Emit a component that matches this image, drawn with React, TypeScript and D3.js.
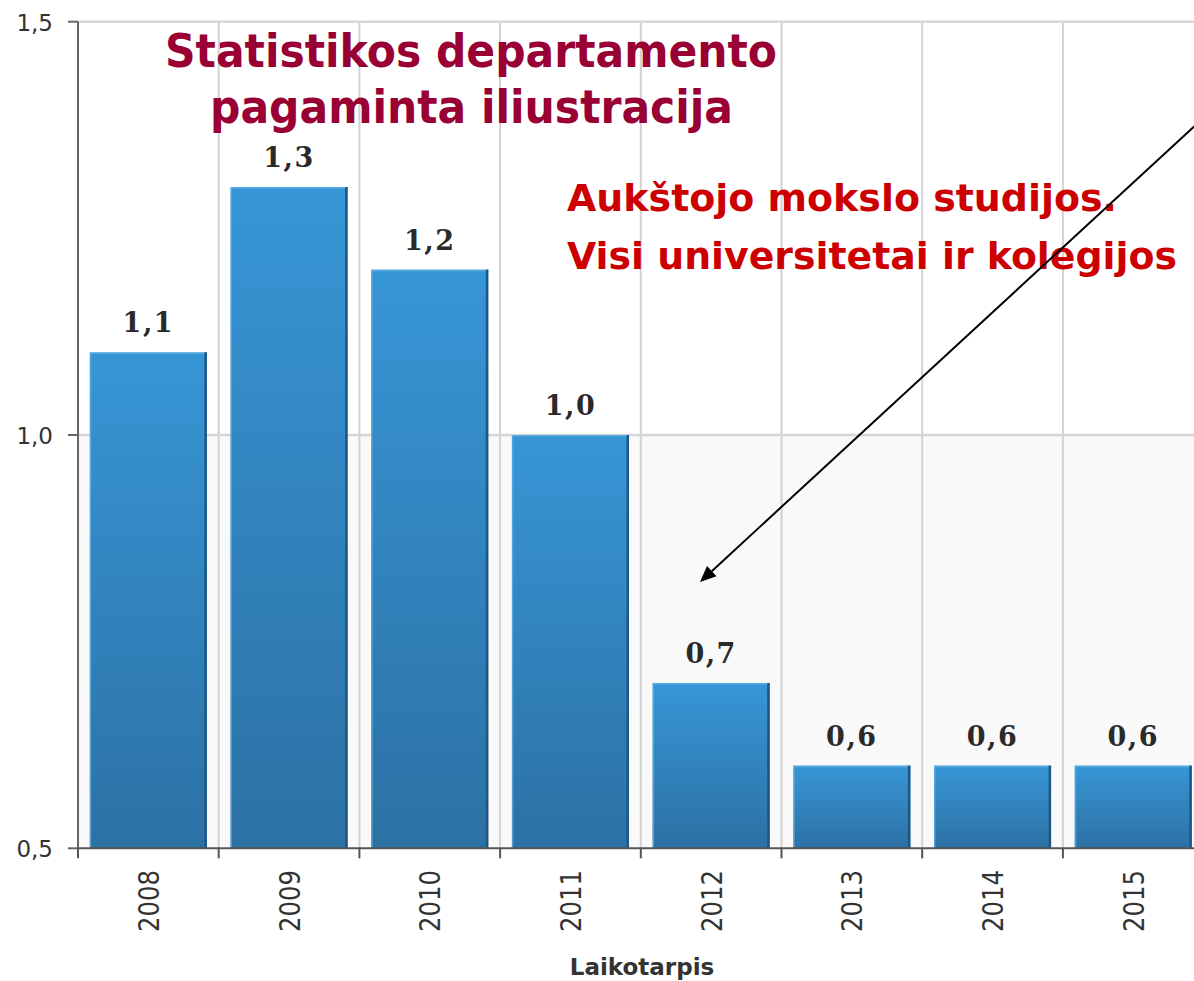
import React from "react";
import * as d3 from "d3";

const years = ["2008", "2009", "2010", "2011", "2012", "2013", "2014", "2015"];
const values = [1.1, 1.3, 1.2, 1.0, 0.7, 0.6, 0.6, 0.6];
const yTicks = [0.5, 1.0, 1.5];
const titleLines = ["Statistikos departamento", "pagaminta iliustracija"];
const noteLines = ["Aukštojo mokslo studijos.", "Visi universitetai ir kolegijos"];
const xTitle = "Laikotarpis";

const W = 1194;
const H = 981;
const left = 78;
const step = 140.7;
const top = 21.7;
const bottom = 848.3;

const fmt = (v: number) => v.toFixed(1).replace(".", ",");

export default function App() {
  const x = d3
    .scaleBand<string>()
    .domain(years)
    .range([left, left + step * years.length])
    .paddingInner(0.168)
    .paddingOuter(0.084);
  const y = d3.scaleLinear().domain([0.5, 1.5]).range([bottom, top]);
  const st = x.step();
  const half = (st * x.paddingInner()) / 2;
  const bounds = years.map((d) => (x(d) as number) - half).concat([left + st * years.length]);

  // arrow annotation
  const ax0 = 1212, ay0 = 110, ax1 = 700, ay1 = 582;
  const ang = Math.atan2(ay1 - ay0, ax1 - ax0);
  const hl = 16, hw = 7;
  const bx = ax1 - hl * Math.cos(ang), by = ay1 - hl * Math.sin(ang);
  const px = -Math.sin(ang) * hw, py = Math.cos(ang) * hw;
  const head = `M${ax1},${ay1}L${bx + px},${by + py}L${bx - px},${by - py}Z`;

  return (
    <svg
      width={W}
      height={H}
      style={{ position: "absolute", left: 0, top: 0, background: "#fff" }}
    >
      <defs>
        <linearGradient id="barGrad" x1="0" y1="0" x2="0" y2="1">
          <stop offset="0" stopColor="#3796d6" />
          <stop offset="1" stopColor="#2c71a4" />
        </linearGradient>
      </defs>
      {/* plot backgrounds */}
      <rect x={left} y={y(1.5)} width={W - left} height={y(1.0) - y(1.5)} fill="#ffffff" />
      <rect x={left} y={y(1.0)} width={W - left} height={y(0.5) - y(1.0)} fill="#f9f9f9" />
      {/* grid */}
      {bounds.slice(1).map((bx2, i) => (
        <line key={"vg" + i} x1={bx2} x2={bx2} y1={y(1.5)} y2={y(0.5)} stroke="#d2d2d2" strokeWidth={2} />
      ))}
      {yTicks.slice(1).map((t) => (
        <line key={"hg" + t} x1={left} x2={W} y1={y(t)} y2={y(t)} stroke="#d6d6d6" strokeWidth={2.5} />
      ))}
      {/* bars */}
      {years.map((d, i) => {
        const bx0 = x(d) as number;
        const bw = x.bandwidth();
        const by0 = y(values[i]);
        const bh = y(0.5) - by0;
        return (
          <g key={d}>
            <rect x={bx0} y={by0} width={bw} height={bh} fill="url(#barGrad)" />
            <rect x={bx0} y={by0} width={1.5} height={bh} fill="#5eaee4" opacity={0.7} />
            <rect x={bx0} y={by0} width={bw} height={1.5} fill="#6ab4e6" opacity={0.7} />
            <rect x={bx0 + bw - 2.5} y={by0} width={2.5} height={bh} fill="#1d5885" />
            <text
              x={bx0 + bw / 2}
              y={by0 - 20}
              textAnchor="middle"
              fontFamily="DejaVu Serif"
              fontWeight="bold"
              fontSize={27}
              letterSpacing={1.5}
              fill="#2a2a2a"
            >
              {fmt(values[i])}
            </text>
          </g>
        );
      })}
      {/* axes */}
      <line x1={left} x2={left} y1={y(1.5)} y2={y(0.5)} stroke="#666" strokeWidth={2} />
      <line x1={left} x2={W} y1={y(0.5)} y2={y(0.5)} stroke="#555" strokeWidth={2} />
      {yTicks.map((t) => (
        <g key={"yt" + t}>
          <line x1={left - 10} x2={left} y1={y(t)} y2={y(t)} stroke="#666" strokeWidth={2} />
          <text
            x={53}
            y={y(t) + 9}
            textAnchor="end"
            fontFamily="DejaVu Sans"
            fontSize={23}
            fill="#333"
          >
            {fmt(t)}
          </text>
        </g>
      ))}
      {bounds.map((bx2, i) => (
        <line key={"xt" + i} x1={bx2} x2={bx2} y1={y(0.5)} y2={y(0.5) + 10} stroke="#555" strokeWidth={2} />
      ))}
      {years.map((d) => {
        const cx = (x(d) as number) + x.bandwidth() / 2;
        return (
          <text
            key={"xl" + d}
            transform={`translate(${cx + 10.5},870) rotate(-90)`}
            textAnchor="end"
            fontFamily="DejaVu Sans"
            fontSize={28.5}
            textLength={62}
            lengthAdjust="spacingAndGlyphs"
            fill="#333"
          >
            {d}
          </text>
        );
      })}
      <text
        x={642}
        y={975}
        textAnchor="middle"
        fontFamily="DejaVu Sans"
        fontWeight="bold"
        fontSize={23}
        fill="#333"
      >
        {xTitle}
      </text>
      {/* title */}
      <text x={165} y={67} fontFamily="DejaVu Sans" fontWeight="bold" fontSize={46} fill="#990033" textLength={612} lengthAdjust="spacingAndGlyphs">
        {titleLines[0]}
      </text>
      <text x={210} y={123} fontFamily="DejaVu Sans" fontWeight="bold" fontSize={46} fill="#990033" textLength={523} lengthAdjust="spacingAndGlyphs">
        {titleLines[1]}
      </text>
      {/* note */}
      <text x={567} y={211} fontFamily="DejaVu Sans" fontWeight="bold" fontSize={38} fill="#cc0000" textLength={550} lengthAdjust="spacingAndGlyphs">
        {noteLines[0]}
      </text>
      <text x={567} y={269} fontFamily="DejaVu Sans" fontWeight="bold" fontSize={38} fill="#cc0000" textLength={610} lengthAdjust="spacingAndGlyphs">
        {noteLines[1]}
      </text>
      {/* arrow */}
      <line x1={ax0} y1={ay0} x2={bx} y2={by} stroke="#000" strokeWidth={2} />
      <path d={head} fill="#000" />
    </svg>
  );
}
